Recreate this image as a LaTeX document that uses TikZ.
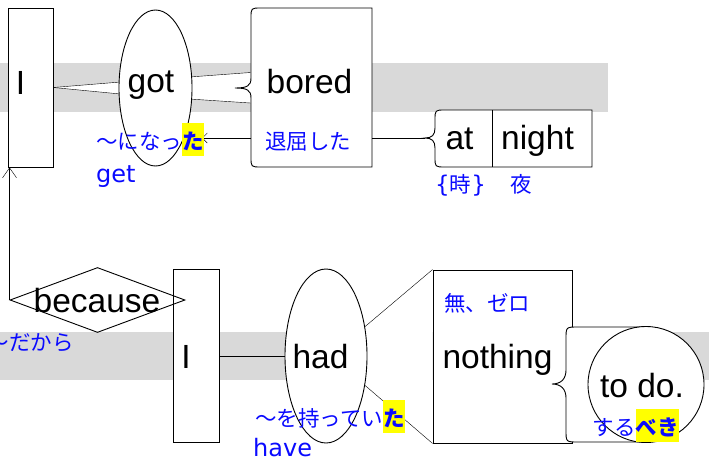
\documentclass[tikz,border=0pt]{standalone}
\usepackage{fontspec}
\usetikzlibrary{shapes.geometric,arrows.meta,calc}
\setmainfont{Liberation Sans}
\newfontfamily\jpf{Noto Sans CJK JP}
\newfontfamily\dvf{DejaVu Sans}
\definecolor{bandgray}{RGB}{217,217,217}
\definecolor{jblue}{RGB}{10,10,255}
\definecolor{hly}{RGB}{255,255,0}
\newcommand\hlt[1]{{\setlength{\fboxsep}{0pt}\colorbox{hly}{\rule[-0.32em]{0pt}{1.54em}\textbf{#1}}}}
\newcommand\dvbr[1]{{\dvf\fontsize{23}{28}\selectfont#1}}
\pgfdeclarelayer{bg}
\pgfsetlayers{bg,main}
\begin{document}
\begin{tikzpicture}[x=1pt,y=-1pt,line width=0.9pt,
  en/.style={inner sep=0,anchor=base,font=\fontsize{33.5}{40}\selectfont},
  jp/.style={inner sep=0,anchor=base west,text=jblue,font=\jpf\fontsize{21.5}{26}\selectfont},
  gl/.style={inner sep=0,anchor=base west,text=jblue,font=\dvf\fontsize{24}{29}\selectfont},
  shp/.style={draw,fill=white,inner sep=0},
  outline/.style={draw,fill=white},
  barb/.style={-{Straight Barb[length=10pt,width=14pt]}},
  smallbarb/.style={-{Straight Barb[length=5pt,width=10pt]}}]
\useasboundingbox (0,0) rectangle (709,461);

% ---- top sentence nodes
\node[shp,rectangle,minimum width=45,minimum height=159] (I1) at (30.5,87.5) {};
\node[shp,ellipse,minimum width=73,minimum height=156] (got) at (155.5,88) {};
\node[inner sep=0,minimum width=121,minimum height=159] (bored) at (311.5,87.5) {};
\filldraw[outline] (372,8) -- (261,8) .. controls (251,8) .. (251,18) -- (251,78)
  .. controls (251,86) and (247,88) .. (235,88) .. controls (247,88) and (251,90) .. (251,98)
  -- (251,157) .. controls (251,167) .. (261,167) -- (372,167) -- cycle;
\coordinate (atTip) at (425,138);
\filldraw[outline] (592,110) -- (445,110) .. controls (435,110) .. (435,120) -- (435,128)
  .. controls (435,135) and (432,138) .. (atTip) .. controls (432,138) and (435,141) .. (435,148)
  -- (435,157) .. controls (435,167) .. (445,167) -- (592,167) -- cycle;
\draw (492,110) -- (492,167);

% ---- bottom sentence nodes
\node[shp,rectangle,minimum width=45.7,minimum height=173.4] (I2) at (196.2,356) {};
\node[draw,inner sep=0,diamond,minimum width=175,minimum height=65] (because) at (97.5,300) {};
\node[shp,ellipse,minimum width=82,minimum height=174] (had) at (326,356) {};
\node[shp,rectangle,minimum width=139,minimum height=173] (nothing) at (502.5,356.5) {};
\fill[white] (646,327) -- (578,327) .. controls (566,327) .. (566,339) -- (566,370)
  .. controls (566,379) and (561,384) .. (552,384) .. controls (561,384) and (566,389) .. (566,398)
  -- (566,430) .. controls (566,442) .. (578,442) -- (646,442) -- cycle;
\draw (646,327) -- (578,327) .. controls (566,327) .. (566,339) -- (566,370)
  .. controls (566,379) and (561,384) .. (552,384) .. controls (561,384) and (566,389) .. (566,398)
  -- (566,430) .. controls (566,442) .. (578,442) -- (646,442);
\node[shp,circle,minimum size=116] (todo) at (646,384.5) {};

% ---- background: bands and link wedges
\begin{pgfonlayer}{bg}
\fill[bandgray] (0,63) rectangle (608,112);
\fill[bandgray] (0,332) rectangle (709,380);
\coordinate (bL1) at ($(bored.west)+(0,-15)$);
\coordinate (bL2) at ($(bored.west)+(0,15.5)$);
\fill[white] (I1.east) -- (got.171) -- (got.189) -- cycle;
\draw (I1.east) -- (got.171);
\draw (I1.east) -- (got.189);
\fill[white] (got.17) -- (bL1) -- (bL2) -- (got.-17) -- cycle;
\draw (got.17) -- (bL1);
\draw (got.-17) -- (bL2);
\fill[white] (had.37) -- (nothing.north west) -- (nothing.south west) -- (had.-37) -- cycle;
\draw (had.37) -- (nothing.north west);
\draw (had.-37) -- (nothing.south west);
\end{pgfonlayer}

% ---- connectors
\draw (I2.east) -- (had.west);
\draw (bored.east |- atTip) -- (atTip);
\coordinate (gotEnd) at (202,138);
\draw[smallbarb] (bored.west |- atTip) -- (gotEnd);
\draw[barb] (because.west) -- (because.west |- I1.south);

% ---- English texts
\node[en] (tI1) at (20.5,94) {I};
\node[en] (tgot) at (151,92) {got};
\node[en] (tbored) at (309.5,93) {bored};
\node[en] (tat) at (459.5,149.5) {at};
\node[en] (tnight) at (537.5,149.5) {night};
\node[en] (tbecause) at (97,312) {because};
\node[en] (tI2) at (186,368) {I};
\node[en] (thad) at (320.5,368) {had};
\node[en] (tnothing) at (497.5,368) {nothing};
\node[en] (ttodo) at (642,397) {to do.};

% ---- Japanese glosses
\node[jp] (j1) at (96,149.5) {〜になっ\hlt{た}};
\node[gl] (g1) at (96,182) {get};
\node[jp] (j2) at (265,149) {退屈した};
\node[jp] (j3) at (435,192) {\dvbr{\{}時\dvbr{\}}};
\node[jp] (j4) at (510,192) {夜};
\node[jp,anchor=base east] (j5) at (74,350) {〜だから};
\node[jp] (j6) at (444,311.5) {無、ゼロ};
\node[jp] (j7) at (255,426) {〜を持ってい\hlt{た}};
\node[gl] (g2) at (253,456) {have};
\node[jp,anchor=base east] (j8) at (679,435.5) {する\hlt{べき}};
\end{tikzpicture}
\end{document}
